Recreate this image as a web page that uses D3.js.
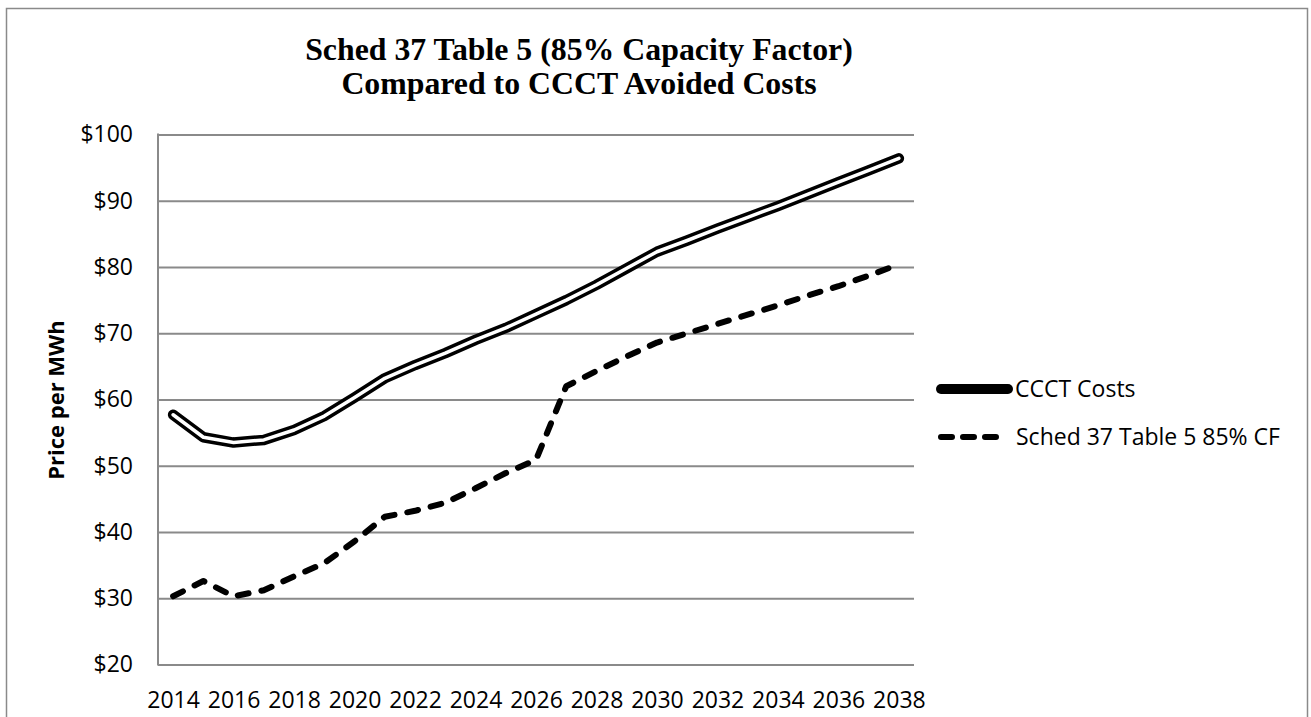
<!DOCTYPE html>
<html>
<head>
<meta charset="utf-8">
<script src="https://cdn.jsdelivr.net/npm/d3@7"></script>
<style>
  html, body { margin: 0; padding: 0; background: #fff; }
  svg { display: block; }
</style>
</head>
<body>
<svg id="chart" width="1311" height="717"></svg>
<script>
// Years on the category axis
const years = d3.range(2014, 2039);
// Every other year gets a label
const yearLabels = d3.range(2014, 2039, 2);
// Price axis ticks ($/MWh)
const priceTicks = [20, 30, 40, 50, 60, 70, 80, 90, 100];

// CCCT avoided costs, $/MWh
const cccCosts = [57.7, 54.3, 53.5, 53.9, 55.4, 57.5, 60.3, 63.2, 65.2, 67.0,
                  69.0, 70.8, 72.9, 75.0, 77.3, 79.8, 82.3, 84.0, 85.8, 87.5,
                  89.2, 91.0, 92.8, 94.6, 96.4];
// Schedule 37 Table 5 prices at 85% capacity factor, $/MWh
const sched37 = [30.3, 32.6, 30.3, 31.2, 33.3, 35.3, 38.6, 42.3, 43.2, 44.4,
                 46.6, 48.9, 50.9, 62.0, 64.3, 66.5, 68.6, 70.0, 71.4, 72.8,
                 74.2, 75.7, 77.1, 78.7, 80.4];

const seriesNames = ["CCCT Costs", "Sched 37 Table 5 85% CF"];
const titleLines = ["Sched 37 Table 5 (85% Capacity Factor)", "Compared to CCCT Avoided Costs"];
const yTitle = "Price per MWh";

const svg = d3.select("#chart");
const gridColor = "#8a8a8a";
const labelFont = "'Open Sans', 'Noto Sans', sans-serif";

// Outer chart frame
svg.append("rect")
  .attr("x", 6.5).attr("y", 8.5)
  .attr("width", 1301).attr("height", 730)
  .attr("fill", "none").attr("stroke", gridColor).attr("stroke-width", 1.5);

const plot = { left: 158, right: 914, top: 134.5, bottom: 664.5 };

const x = d3.scalePoint().domain(years).range([plot.left, plot.right]).padding(0.5);
const y = d3.scaleLinear().domain([20, 100]).range([plot.bottom, plot.top]);

// Horizontal gridlines
svg.append("g")
  .attr("transform", `translate(${plot.left},0)`)
  .call(d3.axisLeft(y).tickValues(priceTicks).tickSize(-(plot.right - plot.left)).tickFormat(""))
  .call(g => g.select(".domain").remove())
  .call(g => g.selectAll(".tick line").attr("stroke", gridColor).attr("stroke-width", 2));

// Left axis line
svg.append("line")
  .attr("x1", plot.left).attr("x2", plot.left)
  .attr("y1", plot.top - 1).attr("y2", plot.bottom + 1)
  .attr("stroke", gridColor).attr("stroke-width", 2);

// Price labels
svg.append("g")
  .attr("transform", `translate(${plot.left},0)`)
  .call(d3.axisLeft(y).tickValues(priceTicks).tickSize(0).tickPadding(25).tickFormat(d => "$" + d))
  .call(g => g.select(".domain").remove())
  .call(g => g.selectAll("text")
    .attr("font-family", labelFont).attr("font-size", 23).attr("fill", "#000"));

// Year labels
svg.append("g")
  .attr("transform", `translate(0,${plot.bottom})`)
  .call(d3.axisBottom(x).tickValues(yearLabels).tickSize(0))
  .call(g => g.select(".domain").remove())
  .call(g => g.selectAll("text")
    .attr("y", 43.5).attr("dy", null)
    .attr("font-family", labelFont).attr("font-size", 23).attr("fill", "#000"));

// Axis title
svg.append("text")
  .attr("transform", "translate(64,400) rotate(-90)")
  .attr("text-anchor", "middle")
  .attr("font-family", labelFont).attr("font-weight", "bold").attr("font-size", 22)
  .text(yTitle);

// Chart title
svg.append("g").selectAll("text")
  .data(titleLines)
  .join("text")
  .attr("x", 579)
  .attr("y", (d, i) => 60 + i * 34)
  .attr("text-anchor", "middle")
  .attr("font-family", "'Liberation Serif', 'Times New Roman', serif")
  .attr("font-weight", "bold").attr("font-size", 31.8)
  .text(d => d);

const line = d3.line().x((d, i) => x(years[i])).y(d => y(d));

// CCCT costs: double line (black outline with white core)
svg.append("path")
  .attr("d", line(cccCosts))
  .attr("fill", "none").attr("stroke", "#000").attr("stroke-width", 10.5)
  .attr("stroke-linecap", "round").attr("stroke-linejoin", "round");
svg.append("path")
  .attr("d", line(cccCosts))
  .attr("fill", "none").attr("stroke", "#fff").attr("stroke-width", 3.5)
  .attr("stroke-linecap", "round").attr("stroke-linejoin", "round");

// Schedule 37 prices: dashed line
svg.append("path")
  .attr("d", line(sched37))
  .attr("fill", "none").attr("stroke", "#000").attr("stroke-width", 6)
  .attr("stroke-dasharray", "11,13")
  .attr("stroke-linecap", "round").attr("stroke-linejoin", "round");

// Legend
const legend = svg.append("g");
legend.append("line")
  .attr("x1", 941).attr("x2", 1008).attr("y1", 389).attr("y2", 389)
  .attr("stroke", "#000").attr("stroke-width", 10).attr("stroke-linecap", "round");
legend.append("line")
  .attr("x1", 941).attr("x2", 997).attr("y1", 437).attr("y2", 437)
  .attr("stroke", "#000").attr("stroke-width", 6).attr("stroke-linecap", "round")
  .attr("stroke-dasharray", "11,11");
legend.selectAll("text")
  .data(seriesNames)
  .join("text")
  .attr("x", (d, i) => i === 0 ? 1015 : 1016)
  .attr("y", (d, i) => 389 + i * 48)
  .attr("dy", "0.35em")
  .attr("font-family", labelFont).attr("font-size", 23)
  .text(d => d);
</script>
</body>
</html>
